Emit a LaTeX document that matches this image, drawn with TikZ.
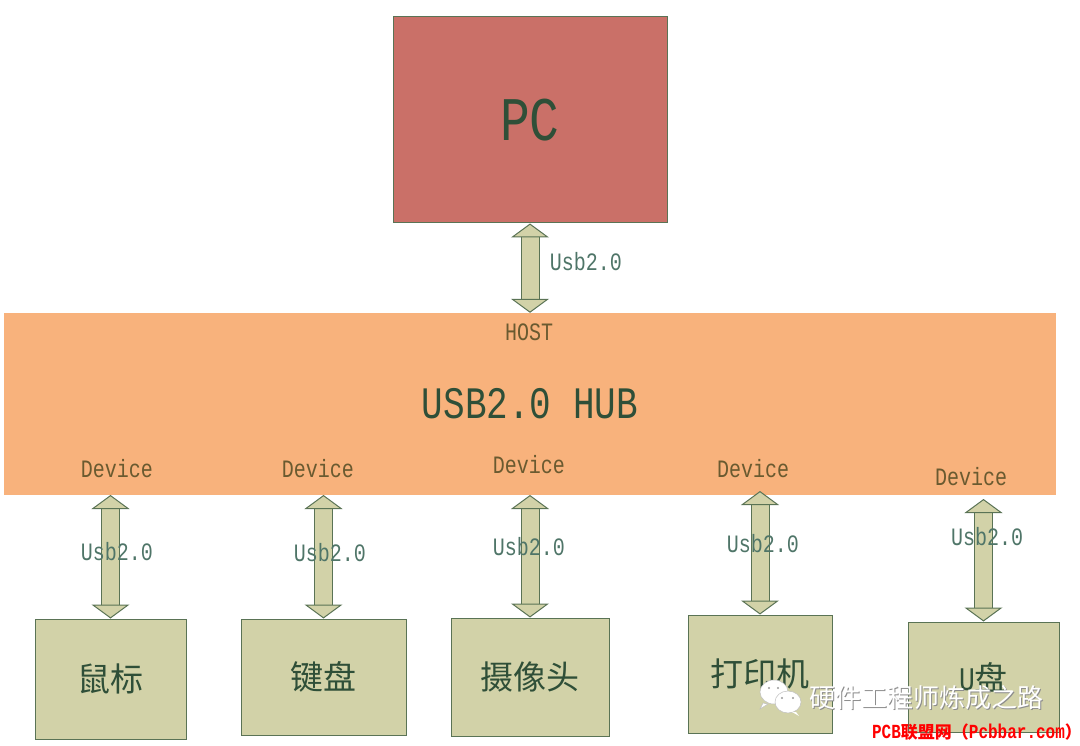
\documentclass[tikz,border=0pt]{standalone}
\usepackage{fontspec}
\usepackage{xcolor}
\usepackage{tikz}
\usetikzlibrary{arrows.meta,positioning}
\setmainfont[FakeStretch=0.8]{Liberation Mono}
\newfontfamily\cjk{Noto Sans CJK SC}
\definecolor{boxfill}{HTML}{D2D2A8}
\definecolor{boxline}{HTML}{5A7355}
\definecolor{pcfill}{HTML}{CA7068}
\definecolor{hubfill}{HTML}{F8B27C}
\definecolor{inktext}{HTML}{2F4F38}
\definecolor{usbtext}{HTML}{4F7568}
\definecolor{hubtext}{HTML}{6A5A30}
\begin{document}
\begin{tikzpicture}[x=1pt,y=-1pt,
  n/.style={draw=boxline,line width=1pt,fill=boxfill,inner sep=0pt,text=inktext,align=center,font=\fontsize{33}{36}\selectfont},
  tag/.style={inner sep=0pt,text=hubtext,font=\fontsize{25}{28}\selectfont},
  usb/.style={inner sep=0pt,text=usbtext,font=\fontsize{25}{28}\selectfont},
  ar/.style={line width=1pt,draw=boxline,double=boxfill,double distance=17pt,
    {Triangle[length=14pt,width=38pt,fill=boxfill]}-{Triangle[length=14pt,width=38pt,fill=boxfill]}}]
\useasboundingbox (0,0) rectangle (1080,746);
% boxes
\node[n,fill=pcfill,minimum width=274pt,minimum height=206pt,font=\fontsize{62}{64}\selectfont] (pc) at (530,120) {PC};
\node[fill=hubfill,inner sep=0pt,minimum width=1052pt,minimum height=182pt,text=inktext,font=\fontsize{45}{48}\selectfont] (hub) at (530,404) {USB2.0 HUB};
\node[n,minimum width=151pt,minimum height=120pt] (mouse)   at (110.5,679) {{\cjk 鼠标}};
\node[n,minimum width=165pt,minimum height=116pt] (keybd)   at (323.5,677) {{\cjk 键盘}};
\node[n,minimum width=158pt,minimum height=118pt] (camera)  at (530,677)   {{\cjk 摄像头}};
\node[n,minimum width=144pt,minimum height=118pt] (printer) at (760,674)   {{\cjk 打印机}};
\node[n,minimum width=151pt,minimum height=110pt] (udisk)   at (983.5,677) {U{\cjk 盘}};
% free ends on the hub
\coordinate (hm) at (110.5,495);
\coordinate (hk) at (323.5,495);
\coordinate (hc) at (530,495);
\coordinate (hp) at (760,491);
\coordinate (hu) at (983.5,499);
% arrows
\draw[ar] (pc.south) -- (pc.south |- hub.north);
\draw[ar] (hm) -- (mouse.north);
\draw[ar] (hk) -- (keybd.north);
\draw[ar] (hc) -- (camera.north);
\draw[ar] (hp) -- (printer.north);
\draw[ar] (hu) -- (udisk.north);
% labels
\node[tag] (host) at (529,332) {HOST};
\node[tag] (d1) at (117,469) {Device};
\node[tag] (d2) at (318,469) {Device};
\node[tag] (d3) at (529,465) {Device};
\node[tag] (d4) at (753,469) {Device};
\node[tag] (d5) at (971,477) {Device};
\node[usb] (u0) at (586,262) {Usb2.0};
\node[usb] (u1) at (117,552) {Usb2.0};
\node[usb] (u2) at (330,553) {Usb2.0};
\node[usb] (u3) at (529,547) {Usb2.0};
\node[usb] (u4) at (763,544) {Usb2.0};
\node[usb] (u5) at (987,537) {Usb2.0};
% watermark
\fill[white,draw=black!25,line width=.5pt] (774,692) ellipse (14pt and 12pt);
\fill[white,draw=black!25,line width=.5pt] (763,703)--(760,709)--(768,704)--cycle;
\fill[white,draw=black!25,line width=.5pt] (788,702) ellipse (13pt and 11pt);
\fill[white] (796,712)--(799,716)--(792,712)--cycle;
\fill[black!40] (782,698) circle (1.2pt) (793,698) circle (1.2pt) (769,688) circle (1.2pt) (778,688) circle (1.2pt);
\node[inner sep=0pt,text=black!45,font=\fontsize{26}{28}\cjk\selectfont] (markb) at (927.5,698.5) {硬件工程师炼成之路};
\node[inner sep=0pt,text=white,font=\fontsize{26}{28}\cjk\selectfont] (mark) at (926.5,697.5) {硬件工程师炼成之路};
\node[inner sep=0pt,text=red,font=\fontsize{20}{22}\bfseries\selectfont] (site) at (977,732) {PCB{\fontsize{17}{22}\cjk\bfseries\selectfont 联盟网（}Pcbbar.com{\fontsize{17}{22}\cjk\bfseries\selectfont ）}};
\end{tikzpicture}
\end{document}
